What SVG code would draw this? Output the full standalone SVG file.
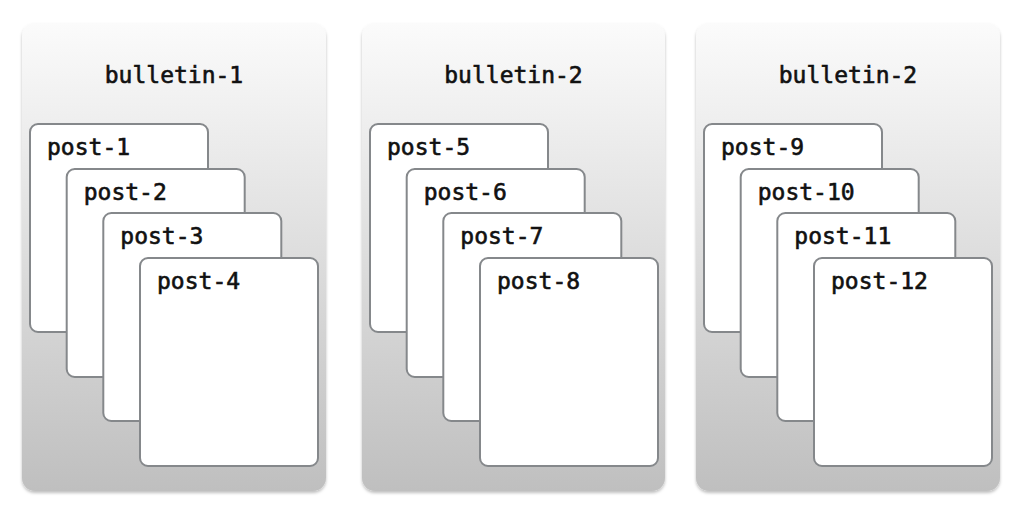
<svg xmlns="http://www.w3.org/2000/svg" width="1024" height="515" viewBox="0 0 1024 515">
<defs>
<linearGradient id="bg" x1="0" y1="0" x2="0" y2="1">
<stop offset="0" stop-color="#fbfbfb"/>
<stop offset="1" stop-color="#bfbfbf"/>
</linearGradient>
<filter id="sh" x="-5%" y="-5%" width="110%" height="110%">
<feDropShadow dx="0" dy="2" stdDeviation="1.5" flood-color="#000" flood-opacity="0.25"/>
</filter>
</defs>
<style>
.box{fill:url(#bg);filter:url(#sh)}
.card{fill:#fff;stroke:#85888b;stroke-width:2}
text{font-family:"DejaVu Sans Mono","Liberation Mono",monospace;font-size:23px;fill:#111;stroke:#111;stroke-width:0.6}
.t{text-anchor:middle}
</style>
<rect width="1024" height="515" fill="#fff"/>
<g id="bulletin-1">
<rect class="box" x="22" y="23" width="304" height="468" rx="13"/>
<text class="t" x="174" y="83">bulletin-1</text>
<g id="post-1"><rect class="card" x="30" y="124" width="178" height="208" rx="8"/><text x="47" y="155">post-1</text></g>
<g id="post-2"><rect class="card" x="66.7" y="169" width="178" height="208" rx="8"/><text x="83.7" y="200">post-2</text></g>
<g id="post-3"><rect class="card" x="103.3" y="213" width="178" height="208" rx="8"/><text x="120.3" y="244">post-3</text></g>
<g id="post-4"><rect class="card" x="140" y="258" width="178" height="208" rx="8"/><text x="157" y="289">post-4</text></g>
</g>
<g id="bulletin-2">
<rect class="box" x="362" y="23" width="303" height="468" rx="13"/>
<text class="t" x="513.5" y="83">bulletin-2</text>
<g id="post-5"><rect class="card" x="370" y="124" width="178" height="208" rx="8"/><text x="387" y="155">post-5</text></g>
<g id="post-6"><rect class="card" x="406.7" y="169" width="178" height="208" rx="8"/><text x="423.7" y="200">post-6</text></g>
<g id="post-7"><rect class="card" x="443.3" y="213" width="178" height="208" rx="8"/><text x="460.3" y="244">post-7</text></g>
<g id="post-8"><rect class="card" x="480" y="258" width="178" height="208" rx="8"/><text x="497" y="289">post-8</text></g>
</g>
<g id="bulletin-3">
<rect class="box" x="696" y="23" width="304" height="468" rx="13"/>
<text class="t" x="848" y="83">bulletin-2</text>
<g id="post-9"><rect class="card" x="704" y="124" width="178" height="208" rx="8"/><text x="721" y="155">post-9</text></g>
<g id="post-10"><rect class="card" x="740.7" y="169" width="178" height="208" rx="8"/><text x="757.7" y="200">post-10</text></g>
<g id="post-11"><rect class="card" x="777.3" y="213" width="178" height="208" rx="8"/><text x="794.3" y="244">post-11</text></g>
<g id="post-12"><rect class="card" x="814" y="258" width="178" height="208" rx="8"/><text x="831" y="289">post-12</text></g>
</g>
<g id="connectors"/>
</svg>
